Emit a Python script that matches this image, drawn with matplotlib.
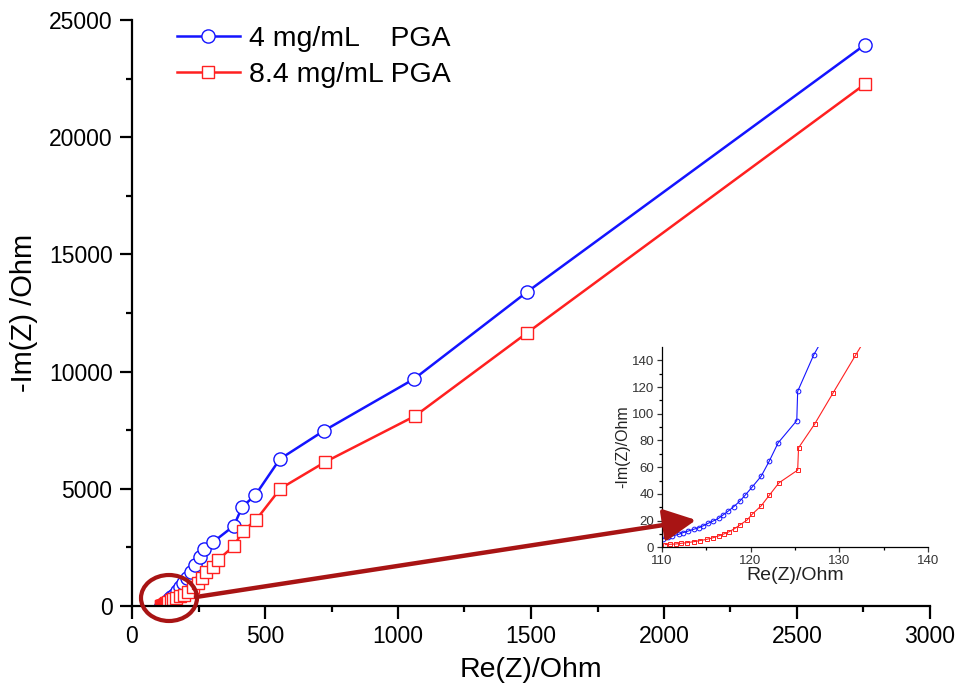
import matplotlib
matplotlib.use("Agg")
import matplotlib.pyplot as plt
from matplotlib.patches import Ellipse, FancyArrowPatch

plt.rcParams['font.family'] = ['Liberation Sans', 'DejaVu Sans']

# ---- data ----
blue_label = "4 mg/mL    PGA"
red_label = "8.4 mg/mL PGA"

blue_re = [110.2, 110.7, 111.2, 111.9, 112.4, 113.0, 113.6, 114.2, 114.7, 115.2,
           115.8, 116.4, 116.9, 117.5, 118.1, 118.8, 119.4, 120.2, 121.2, 122.1,
           123.1, 125.2, 125.3, 127.1,
           131, 138, 147, 157, 168, 180, 193, 207, 222, 238, 255, 272, 305, 383,
           414, 464, 556, 722, 1060, 1485, 2756]
blue_im = [6.5, 7.5, 8.5, 9.7, 11.0, 12.2, 13.5, 14.7, 16.2, 17.9,
           19.7, 21.7, 24.2, 27.2, 30.4, 34.6, 39.1, 45.3, 53.3, 64.5,
           78.2, 94.9, 116.8, 144.0,
           190, 280, 380, 490, 620, 790, 980, 1200, 1450, 1750, 2100, 2450, 2730, 3420,
           4224, 4735, 6270, 7480, 9684, 13396, 23950]

red_re = [110.4, 110.9, 111.6, 112.2, 112.9, 113.6, 114.3, 115.1, 115.8, 116.4,
          117.0, 117.6, 118.2, 118.8, 119.6, 120.2, 121.2, 122.1, 123.2, 125.3,
          125.4, 127.2, 129.3, 131.8,
          136, 145, 155, 167, 180, 195, 211, 229, 248, 262, 278, 305, 323, 383,
          417, 466, 558, 726, 1064, 1485, 2756]
red_im = [2.0, 2.2, 2.5, 3.0, 3.5, 4.2, 5.0, 6.0, 7.2, 8.5,
          10.0, 11.7, 14.0, 16.7, 20.4, 24.9, 31.1, 38.9, 48.3, 57.8,
          74.5, 92.2, 115.8, 143.7,
          190, 240, 290, 350, 410, 480, 600, 810, 981, 1195, 1450, 1664, 1962, 2560,
          3200, 3669, 5010, 6143, 8106, 11650, 22270]

main_xticks = [0, 500, 1000, 1500, 2000, 2500, 3000]
main_yticks = [0, 5000, 10000, 15000, 20000, 25000]
inset_xticks = [110, 120, 130, 140]
inset_yticks = [0, 20, 40, 60, 80, 100, 120, 140]

BLUE = '#1414ff'
RED = '#ff2020'
DARKRED = '#a81414'

W, H = 959, 693
fig = plt.figure(figsize=(W / 100, H / 100), dpi=100)

# ---- main axes ----
ax = fig.add_axes([132 / W, 1 - 606 / H, (930 - 132) / W, (606 - 20) / H])
ax.plot(blue_re, blue_im, '-o', color=BLUE, lw=1.8, ms=9.5, mfc='white',
        mec=BLUE, mew=1.0, label=blue_label)
ax.plot(red_re, red_im, '-s', color=RED, lw=1.8, ms=8.5, mfc='white',
        mec=RED, mew=1.0, label=red_label)
ax.set_xlim(0, 3000)
ax.set_ylim(0, 25000)
ax.set_xticks(main_xticks)
ax.set_yticks(main_yticks)
ax.set_xticks([250, 750, 1250, 1750, 2250, 2750], minor=True)
ax.set_yticks([2500, 7500, 12500, 17500, 22500], minor=True)
for s in ['top', 'right']:
    ax.spines[s].set_visible(False)
for s in ['left', 'bottom']:
    ax.spines[s].set_linewidth(1.6)
ax.tick_params(which='major', direction='out', length=9, width=1.6,
               labelsize=16.5, pad=5)
ax.tick_params(which='minor', direction='out', length=4.5, width=1.6)
ax.set_xlabel('Re(Z)/Ohm', fontsize=20.5, labelpad=6)
ax.set_ylabel('-Im(Z) /Ohm', fontsize=21, labelpad=8)
leg = ax.legend(loc='upper left', bbox_to_anchor=(177 / W, 1 - 26 / H),
                bbox_transform=fig.transFigure, frameon=False, fontsize=20.5,
                handlelength=2.2, handletextpad=0.33, labelspacing=0.36,
                borderaxespad=0, borderpad=0)

# ---- inset ----
ins = fig.add_axes([661.7 / W, 1 - 547.3 / H, (928.3 - 661.7) / W, (547.3 - 347) / H])
ins.set_facecolor('none')
ins.plot(blue_re, blue_im, '-o', color=BLUE, lw=0.8, ms=3.4, mfc='none',
         mec=BLUE, mew=0.7)
ins.plot(red_re, red_im, '-s', color=RED, lw=0.8, ms=3.2, mfc='none',
         mec=RED, mew=0.7)
ins.set_xlim(110, 140)
ins.set_ylim(0, 150)
ins.set_xticks(inset_xticks)
ins.set_yticks(inset_yticks)
ins.set_xticks([115, 125, 135], minor=True)
ins.set_yticks([10, 30, 50, 70, 90, 110, 130], minor=True)
for s in ['top', 'right']:
    ins.spines[s].set_visible(False)
for s in ['left', 'bottom']:
    ins.spines[s].set_linewidth(0.9)
ins.tick_params(which='major', direction='out', length=3.5, width=0.9,
                labelsize=9.5, pad=2, colors='#333333')
ins.tick_params(which='minor', direction='out', length=2, width=0.9)
ins.set_xlabel('Re(Z)/Ohm', fontsize=14, labelpad=0, color='#222222')
ins.set_ylabel('-Im(Z)/Ohm', fontsize=11.5, labelpad=1, color='#222222')

# ---- annotation: ellipse + arrow ----
ell = Ellipse((169 / W, 1 - 598 / H), 56 / W, 46 / H, transform=fig.transFigure,
              fill=False, ec=DARKRED, lw=3.0, zorder=10)
fig.add_artist(ell)
arr = FancyArrowPatch((196 / W, 1 - 597 / H), (696 / W, 1 - 520 / H),
                      transform=fig.transFigure, arrowstyle='-|>,head_length=1.3,head_width=0.65',
                      mutation_scale=15, color=DARKRED, lw=3.2, zorder=10,
                      shrinkA=0, shrinkB=0)
fig.add_artist(arr)

fig.savefig('out.png', dpi=100)
